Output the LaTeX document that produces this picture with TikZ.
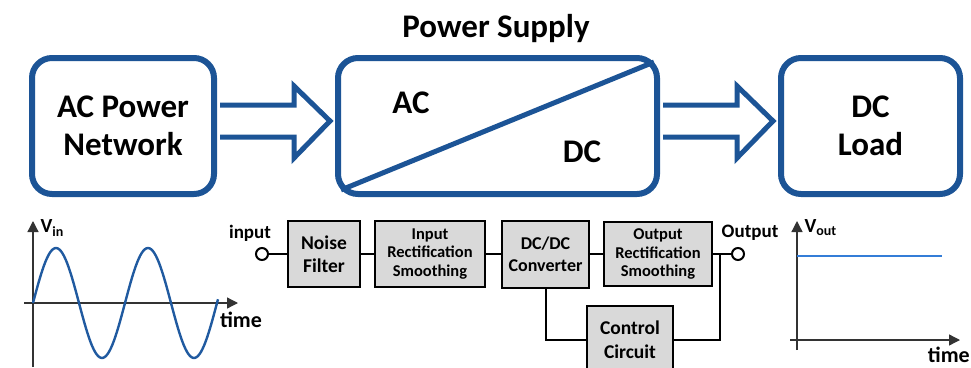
\documentclass[tikz,border=0pt]{standalone}
\usepackage{fontspec}
\setmainfont{Carlito}
\usetikzlibrary{calc,arrows.meta}

\begin{document}
\begin{tikzpicture}[x=1pt, y=-1pt, >={Triangle[length=11pt,width=11pt]}]

        % Define colors
        \definecolor{psblue}{RGB}{28, 84, 150}
        \definecolor{sineblue}{RGB}{32, 90, 160}
        \definecolor{dcblue}{RGB}{52, 125, 215}
        \definecolor{boxgray}{RGB}{217, 217, 217}

        \tikzset{
            bigbox/.style={draw=psblue, line width=6pt, rounded corners=20pt, fill=white,
                font=\fontsize{33}{38}\selectfont\bfseries, align=center, inner sep=0pt},
            bigtext/.style={font=\fontsize{33}{38}\selectfont\bfseries},
            blockarrow/.style={draw=psblue, line width=5pt, fill=white, line join=miter},
            stagebox/.style={draw=black, line width=2pt, fill=boxgray, align=center, inner sep=0pt},
            wire/.style={black, line width=2pt},
            axis/.style={black!80, line width=1.3pt, ->},
            lbl/.style={font=\fontsize{19}{21}\selectfont\bfseries}
        }

        \useasboundingbox (0,0) rectangle (971,367);

        % Top row: network, power supply, load
        \node[bigbox, minimum width=182pt, minimum height=136pt] (net) at (123,126) {AC Power\\Network};
        \node[bigbox, minimum width=319pt, minimum height=136pt] (psu) at (497.5,126) {};
        \node[bigbox, minimum width=179pt, minimum height=136pt] (load) at (870.5,126) {DC\\Load};
        \node[bigtext] (title) at (496,29) {Power Supply};

        % Converter symbol inside the supply
        \draw[psblue, line width=5pt] ($(psu.south west)+(6,-7)$) -- ($(psu.north east)+(-6,7)$);
        \node[bigtext] (ac) at (411,103) {AC};
        \node[bigtext] (dc) at (582,152) {DC};

        % Block arrows between the top boxes
        \foreach \a/\b in {net/psu, psu/load} {
            \draw[blockarrow] ($(\a.east)+(3,-21)$) -- ($(\b.west)+(-41,-21)$) -- ++(0,-19)
                -- ($(\b.west)+(-5,-5)$) -- ($(\b.west)+(-41,32)$) -- ++(0,-21) -- ($(\a.east)+(3,11)$);
        }

        % Input waveform
        \draw[axis] (33,367) -- (33,221);
        \draw[axis] (24,303) -- (238,303);
        \draw[sineblue, line width=2.4pt] plot[domain=0:185, samples=120] ({33+\x},{303-55*sin(\x/92*360)});
        \node[font=\fontsize{20}{22}\selectfont\bfseries, anchor=west] (vin) at (37,228) {V\textsubscript{in}};
        \node[font=\fontsize{22}{24}\selectfont\bfseries] (t1) at (241,320) {time};

        % Stages of the supply
        \node[stagebox, minimum width=72pt, minimum height=66pt, font=\fontsize{19.5}{23}\selectfont\bfseries] (nf) at (324,254) {Noise\\Filter};
        \node[stagebox, minimum width=110pt, minimum height=66pt, font=\fontsize{16.5}{18.5}\selectfont\bfseries] (irs) at (430,254) {Input\\Rectification\\Smoothing};
        \node[stagebox, minimum width=87pt, minimum height=67pt, font=\fontsize{18}{22}\selectfont\bfseries] (dcdc) at (545.5,254) {DC/DC\\Converter};
        \node[stagebox, minimum width=108pt, minimum height=64pt, font=\fontsize{16.5}{18.5}\selectfont\bfseries] (ors) at (658,254) {Output\\Rectification\\Smoothing};
        \node[stagebox, minimum width=86pt, minimum height=68pt, font=\fontsize{19.5}{24}\selectfont\bfseries] (ctrl) at (630,340) {Control\\Circuit};

        \node[draw=black, line width=2pt, circle, fill=white, minimum size=12pt, inner sep=0pt] (inp) at (262,254) {};
        \node[draw=black, line width=2pt, circle, fill=white, minimum size=12pt, inner sep=0pt] (outp) at (738,254) {};
        \node[lbl] (inlbl) at (250,233) {input};
        \node[lbl] (outlbl) at (750,233) {Output};
        \coordinate (jn) at (720,254);

        % Wiring
        \draw[wire] (inp) -- (nf) (nf) -- (irs) (irs) -- (dcdc) (dcdc) -- (ors) (ors) -- (outp);
        \draw[wire] (dcdc.south) |- (ctrl.west);
        \draw[wire] (ctrl.east) -| (jn);

        % Output waveform
        \draw[axis] (797,350) -- (797,221);
        \draw[axis] (790,340) -- (960,340);
        \draw[dcblue, line width=2.4pt] (797,256) -- (942,256);
        \node[font=\fontsize{20}{22}\selectfont\bfseries, anchor=west] (vout) at (801,228) {V\textsubscript{out}};
        \node[font=\fontsize{22}{24}\selectfont\bfseries, anchor=east, inner sep=1pt] (t2) at (971,355) {time};

    \end{tikzpicture}
\end{document}
